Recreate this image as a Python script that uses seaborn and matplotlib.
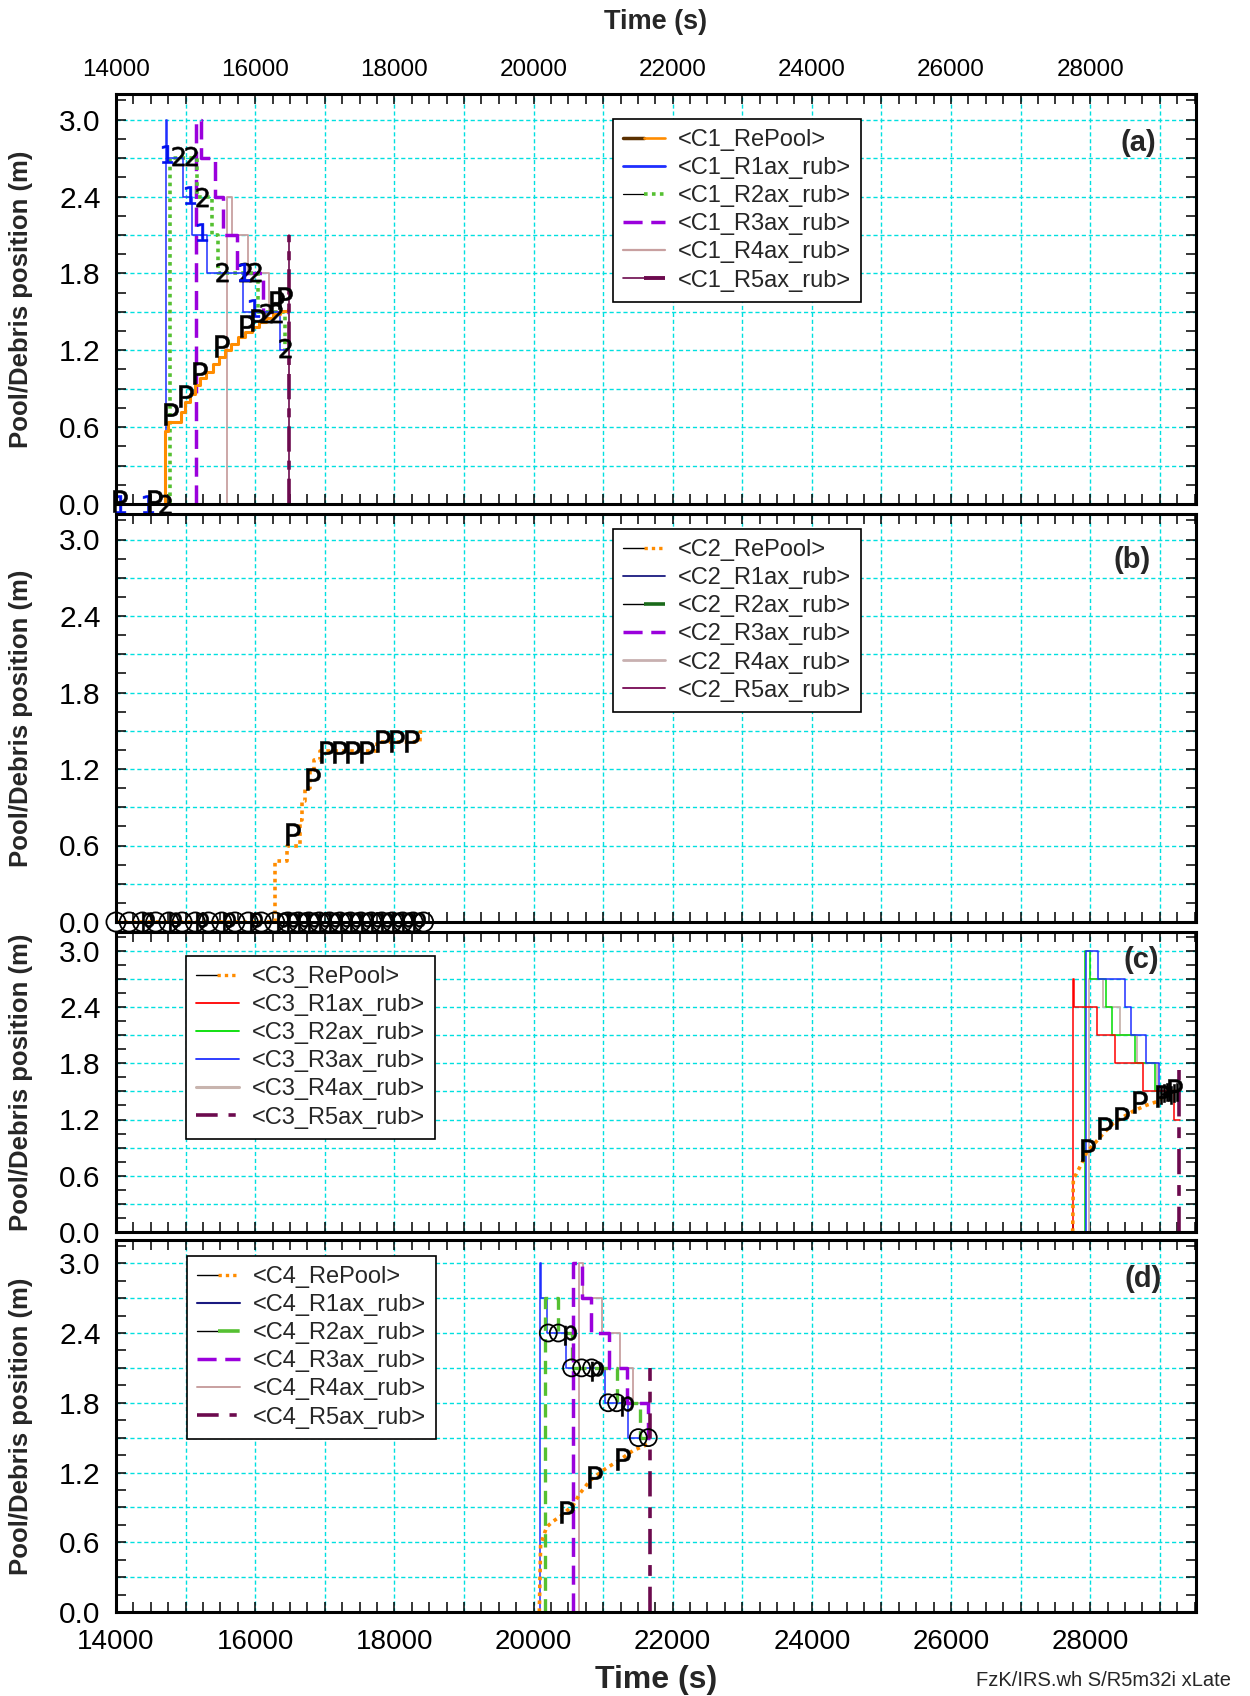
import numpy as np
import pandas as pd
import matplotlib
matplotlib.use("Agg")
import matplotlib.pyplot as plt
import seaborn as sns
from matplotlib.lines import Line2D
from matplotlib.legend_handler import HandlerTuple
from matplotlib.ticker import MultipleLocator, FuncFormatter

sns.set_theme(style="white")
plt.rcParams['font.family'] = ['Liberation Sans', 'DejaVu Sans']

# ---------------- DATA ----------------
# Panel (a) : C1
a_pool_t = [14704, 14704, 14748, 14940, 14990, 15060, 15130, 15200, 15300, 15400, 15480, 15560,
            15650, 15750, 15850, 15950, 16050, 16150, 16250, 16350, 16476]
a_pool_v = [0.0, 0.57, 0.64, 0.72, 0.80, 0.86, 0.93, 0.98, 1.03, 1.09, 1.15, 1.20,
            1.25, 1.30, 1.34, 1.38, 1.42, 1.45, 1.48, 1.51, 1.52]
a_r1_t = [14718, 14718, 14728, 14967, 15087, 15303, 15830, 16357, 16476]
a_r1_v = [0.0, 3.0, 2.7, 2.4, 2.1, 1.8, 1.5, 1.2, 1.2]
a_r2_t = [14776, 14776, 15168, 15375, 15470, 16045, 16428, 16476]
a_r2_v = [0.0, 2.7, 2.4, 2.1, 1.8, 1.5, 1.2, 1.2]
a_r3_t = [15150, 15150, 15217, 15423, 15542, 15734, 16117, 16476]
a_r3_v = [0.0, 3.0, 2.7, 2.4, 2.1, 1.8, 1.5, 1.5]
a_r4_t = [15588, 15588, 15660, 15900, 16200, 16476]
a_r4_v = [0.0, 2.4, 2.1, 1.8, 1.5, 1.5]
a_r5_t = [16485, 16485, 16490]
a_r5_v = [0.0, 2.1, 2.1]
a_mP_t = [14060, 14560, 14790, 15005, 15207, 15518, 15878, 16045, 16309, 16428]
a_mP_v = [0.02, 0.02, 0.70, 0.84, 1.02, 1.23, 1.39, 1.44, 1.58, 1.61]
a_m1_t = [14060, 14460, 14726, 15063, 15236, 15983, 15840]
a_m1_v = [0.0, 0.0, 2.73, 2.41, 2.12, 1.53, 1.81]
a_m2_t = [14700, 14891, 15078, 15236, 15523, 15860, 15998, 16160, 16300, 16429]
a_m2_v = [0.0, 2.72, 2.72, 2.40, 1.81, 1.81, 1.81, 1.49, 1.49, 1.22]

# Panel (b) : C2
b_pool_t = [14000, 16285, 16453, 16644, 16680, 16714, 16787, 16850, 16931, 17745, 18368, 18420]
b_pool_v = [0.0, 0.48, 0.60, 0.80, 0.95, 1.05, 1.19, 1.27, 1.34, 1.41, 1.49, 1.49]
b_rub_t = [14000, 18420]
b_rub_v = [0.0, 0.0]
b_mP_t = [16548, 16836, 17028, 17219, 17411, 17603, 17841, 18033, 18249]
b_mP_v = [0.69, 1.12, 1.33, 1.33, 1.33, 1.33, 1.42, 1.42, 1.42]
b_circ_t = [14000, 14190, 14380, 14570, 14760, 14950, 15140, 15330, 15520, 15710, 15900,
            16090, 16280, 16470, 16620, 16770, 16920, 17070, 17220, 17370, 17520, 17670,
            17820, 17970, 18120, 18270, 18420]
b_p_t = [14460, 14850, 15235, 15625, 16010, 16400, 16550, 16700, 16850, 17000, 17150,
         17300, 17450, 17600, 17750, 17900, 18050, 18200, 18350]

# Panel (c) : C3
c_pool_t = [27748, 27757, 27800, 27877, 27950, 28069, 28200, 28332, 28480, 28620, 28800,
            28955, 29146, 29290]
c_pool_v = [0.0, 0.57, 0.62, 0.73, 0.85, 0.95, 1.06, 1.16, 1.23, 1.29, 1.35, 1.39, 1.50, 1.50]
c_r1_t = [27757, 27757, 27770, 28093, 28356, 28754, 29204, 29290]
c_r1_v = [0.0, 2.7, 2.4, 2.1, 1.8, 1.5, 1.2, 1.2]
c_r2_t = [27925, 27925, 27997, 28227, 28313, 28643, 28931, 29040]
c_r2_v = [0.0, 3.0, 2.7, 2.4, 2.1, 1.8, 1.5, 1.5]
c_r3_t = [27935, 27935, 28107, 28500, 28586, 28797, 28993, 29080]
c_r3_v = [0.0, 3.0, 2.7, 2.4, 2.1, 1.8, 1.5, 1.5]
c_r4_t = [27987, 27987, 28179, 28428, 28677, 28955, 29080]
c_r4_v = [0.0, 2.7, 2.4, 2.1, 1.8, 1.5, 1.5]
c_r5_t = [29276, 29276, 29280]
c_r5_v = [0.0, 1.73, 1.73]
c_mP_t = [27973, 28212, 28452, 28715, 29051, 29218]
c_mP_v = [0.88, 1.11, 1.22, 1.39, 1.45, 1.52]
c_m2_t = [29090, 29130, 29170]
c_m2_v = [1.46, 1.48, 1.49]

# Panel (d) : C4
d_pool_t = [20083, 20102, 20188, 20280, 20380, 20476, 20571, 20667, 20811, 21003, 21242,
            21434, 21673]
d_pool_v = [0.0, 0.58, 0.73, 0.78, 0.82, 0.87, 0.92, 1.02, 1.13, 1.22, 1.31, 1.39, 1.45]
d_r1_t = [20092, 20092, 20105, 20188, 20461, 21026, 21362, 21673]
d_r1_v = [0.0, 3.0, 2.7, 2.4, 2.1, 1.8, 1.5, 1.5]
d_r2_t = [20164, 20164, 20356, 20547, 21194, 21530, 21673]
d_r2_v = [0.0, 2.7, 2.4, 2.1, 1.8, 1.5, 1.5]
d_r3_t = [20571, 20571, 20691, 20825, 21089, 21347, 21649, 21673]
d_r3_v = [0.0, 3.0, 2.7, 2.4, 2.1, 1.8, 1.5, 1.5]
d_r4_t = [20653, 20653, 20715, 20979, 21242, 21434, 21673]
d_r4_v = [0.0, 3.0, 2.7, 2.4, 2.1, 1.8, 1.8]
d_r5_t = [21673, 21673, 21680]
d_r5_v = [0.0, 2.1, 2.1]
d_circ_t = [20212, 20356, 20547, 20691, 20835, 21074, 21194, 21506, 21649]
d_circ_v = [2.4, 2.4, 2.1, 2.1, 2.1, 1.8, 1.8, 1.5, 1.5]
d_p_t = [20524, 20907, 21338]
d_p_v = [2.38, 2.07, 1.77]
d_mP_t = [20476, 20883, 21290]
d_mP_v = [0.86, 1.16, 1.32]

legend_a = ["<C1_RePool>", "<C1_R1ax_rub>", "<C1_R2ax_rub>", "<C1_R3ax_rub>", "<C1_R4ax_rub>", "<C1_R5ax_rub>"]
legend_b = ["<C2_RePool>", "<C2_R1ax_rub>", "<C2_R2ax_rub>", "<C2_R3ax_rub>", "<C2_R4ax_rub>", "<C2_R5ax_rub>"]
legend_c = ["<C3_RePool>", "<C3_R1ax_rub>", "<C3_R2ax_rub>", "<C3_R3ax_rub>", "<C3_R4ax_rub>", "<C3_R5ax_rub>"]
legend_d = ["<C4_RePool>", "<C4_R1ax_rub>", "<C4_R2ax_rub>", "<C4_R3ax_rub>", "<C4_R4ax_rub>", "<C4_R5ax_rub>"]

# ---------------- STYLES ----------------
ORANGE = '#ff8c00'
BLUE = '#1f2fff'
GREEN_A = '#55c032'
PURPLE = '#9a00dc'
ROSY = '#c8a0a0'
R5C = '#6c0a4e'
NAVY = '#1a1a80'
DKGREEN = '#1a6a1a'
PLUM = '#801a60'
RED = '#ff0000'
LIME = '#00dd00'
ROSY_C = '#c8b4ae'
GRID = '#00e0e0'

DOT = (0, (1, 1.2))
DASH = (0, (5.5, 2.5))
DASHDOT = (0, (7, 2.5, 2.5, 2.5))
GDASH = (0, (4, 2.5))

fig = plt.figure(figsize=(12.5, 16.96), dpi=100)
L, W = 116 / 1250, 1080 / 1250
axa = fig.add_axes([L, 1 - 504 / 1696, W, 410 / 1696])
axb = fig.add_axes([L, 1 - 922 / 1696, W, 408 / 1696])
axc = fig.add_axes([L, 1 - 1232 / 1696, W, 300 / 1696])
axd = fig.add_axes([L, 1 - 1612 / 1696, W, 372 / 1696])


def line(ax, t, v, color, lw, ls='-', steps=True, z=3):
    df = pd.DataFrame({'t': t, 'v': v})
    sns.lineplot(data=df, x='t', y='v', ax=ax, color=color, linewidth=lw, linestyle=ls,
                 estimator=None, sort=False, legend=False, zorder=z,
                 drawstyle='steps-post' if steps else 'default')


def marks(ax, t, v, marker, s, color='black', z=6, hollow=False):
    df = pd.DataFrame({'t': t, 'v': v})
    if hollow:
        sns.scatterplot(data=df, x='t', y='v', ax=ax, marker=marker, s=s, facecolors='none',
                        edgecolor=color, linewidth=1.3, legend=False, zorder=z, clip_on=False)
    else:
        sns.scatterplot(data=df, x='t', y='v', ax=ax, marker=marker, s=s, color=color,
                        edgecolor=color, linewidth=0.4, legend=False, zorder=z, clip_on=False)


def xfmt(v, p):
    return f"{v:.0f}" if abs(v / 2000 - round(v / 2000)) < 1e-6 else ""


def yfmt(v, p):
    i = int(round(v / 0.3))
    return f"{v:.1f}" if i % 2 == 0 else ""


def style(ax, top_labels=False, bottom_labels=False):
    ax.set_xlim(14000, 29520)
    ax.set_ylim(0, 3.2)
    ax.xaxis.set_major_locator(MultipleLocator(1000))
    ax.xaxis.set_minor_locator(MultipleLocator(250))
    ax.yaxis.set_major_locator(MultipleLocator(0.3))
    ax.yaxis.set_minor_locator(MultipleLocator(0.15))
    ax.xaxis.set_major_formatter(FuncFormatter(xfmt))
    ax.yaxis.set_major_formatter(FuncFormatter(yfmt))
    ax.tick_params(which='both', direction='in', top=True, right=True, bottom=True, left=True,
                   length=7, width=1.1, colors='black')
    ax.tick_params(axis='x', labeltop=top_labels, labelbottom=bottom_labels,
                   labelsize=20 if bottom_labels else 17.5, pad=12 if bottom_labels else 9)
    ax.tick_params(axis='y', labelsize=21.5, pad=11)
    ax.grid(True, which='major', color=GRID, linestyle=(0, (3, 2)), linewidth=1.0)
    ax.set_axisbelow(True)
    for sp in ax.spines.values():
        sp.set_color('black')
        sp.set_linewidth(2.2)
        sp.set_zorder(8)
    ax.set_xlabel('')
    ax.set_ylabel('Pool/Debris position (m)', fontsize=18.5, fontweight='bold')
    ax.yaxis.set_label_coords(-0.077, 0.5)


def legend(ax, handles, labels, anchor):
    leg = ax.legend(handles, labels, loc='upper left', bbox_to_anchor=anchor, borderaxespad=0,
                    fontsize=17, frameon=True, fancybox=False, edgecolor='black', framealpha=1,
                    handlelength=1.8, handletextpad=0.55, borderpad=0.42, labelspacing=0.26,
                    handler_map={tuple: HandlerTuple(ndivide=None, pad=0)})
    leg.get_frame().set_linewidth(1.2)
    leg.set_zorder(20)


def L2(color, lw, ls='-'):
    return Line2D([], [], color=color, lw=lw, ls=ls)


# ---------- Panel (a) ----------
line(axa, a_r4_t, a_r4_v, ROSY, 1.3)
line(axa, a_r3_t, a_r3_v, PURPLE, 2.5, DASH)
line(axa, a_r2_t, a_r2_v, GREEN_A, 2.6, DOT)
line(axa, a_r1_t, a_r1_v, BLUE, 1.1)
line(axa, a_pool_t, a_pool_v, ORANGE, 2.2)
line(axa, a_r5_t, a_r5_v, R5C, 1.2)
line(axa, a_r5_t, a_r5_v, R5C, 2.6, DASHDOT)
marks(axa, a_m2_t, a_m2_v, r'$\mathsf{2}$', 190)
marks(axa, a_m1_t, a_m1_v, r'$\mathsf{1}$', 170, color='#0010ee')
marks(axa, a_mP_t, a_mP_v, r'$\mathsf{P}$', 250)
style(axa, top_labels=True)
legend(axa, [(L2('#5a3000', 2.5), L2(ORANGE, 1.9)), L2(BLUE, 2.0),
             (L2('black', 0.9), L2(GREEN_A, 2.6, DOT)), L2(PURPLE, 2.5, DASH),
             L2(ROSY, 1.6), (L2(R5C, 1.2), L2(R5C, 2.8, (0, (8, 4, 3, 1))))],
       legend_a, (0.46, 0.939))
axa.text(0.947, 0.88, '(a)', transform=axa.transAxes, fontsize=21, fontweight='bold',
         ha='center', va='center')

# ---------- Panel (b) ----------
line(axb, b_rub_t, b_rub_v, NAVY, 1.0)
line(axb, b_rub_t, b_rub_v, PLUM, 1.2)
line(axb, b_pool_t, b_pool_v, ORANGE, 2.6, DOT)
marks(axb, b_circ_t, [0.0] * len(b_circ_t), 'o', 190, hollow=True)
marks(axb, b_p_t, [0.0] * len(b_p_t), r'$\mathsf{p}$', 200)
marks(axb, b_mP_t, b_mP_v, r'$\mathsf{P}$', 250)
style(axb)
legend(axb, [(L2('black', 1.0), L2(ORANGE, 2.4, DOT)), L2(NAVY, 1.3),
             (L2('black', 1.0), L2(DKGREEN, 2.6, (0, (6, 4)))), L2(PURPLE, 2.5, DASH),
             L2('#c8b0b0', 2.0), L2(PLUM, 1.4)],
       legend_b, (0.46, 0.963))
axb.text(0.941, 0.887, '(b)', transform=axb.transAxes, fontsize=21, fontweight='bold',
         ha='center', va='center')

# ---------- Panel (c) ----------
line(axc, c_r4_t, c_r4_v, ROSY_C, 1.3)
line(axc, c_r2_t, c_r2_v, LIME, 1.1)
line(axc, c_r3_t, c_r3_v, BLUE, 1.1)
line(axc, c_r1_t, c_r1_v, RED, 1.1)
line(axc, c_pool_t, c_pool_v, ORANGE, 2.6, DOT, steps=False)
line(axc, c_r5_t, c_r5_v, R5C, 2.6, (0, (7, 3, 3, 3)))
marks(axc, c_m2_t, c_m2_v, r'$\mathsf{H}$', 150)
marks(axc, c_mP_t, c_mP_v, r'$\mathsf{P}$', 250)
style(axc)
legend(axc, [(L2('black', 1.0), L2(ORANGE, 2.4, DOT)), L2(RED, 1.3), L2(LIME, 1.3),
             L2(BLUE, 1.3), L2(ROSY_C, 2.2), L2(R5C, 2.6, (0, (6, 3, 2, 3)))],
       legend_c, (0.065, 0.92))
axc.text(0.949, 0.907, '(c)', transform=axc.transAxes, fontsize=21, fontweight='bold',
         ha='center', va='center')

# ---------- Panel (d) ----------
line(axd, d_r4_t, d_r4_v, ROSY, 1.3)
line(axd, d_r1_t, d_r1_v, BLUE, 1.1)
line(axd, d_r2_t, d_r2_v, GREEN_A, 2.4, GDASH)
line(axd, d_r3_t, d_r3_v, PURPLE, 2.5, DASH)
line(axd, d_pool_t, d_pool_v, ORANGE, 2.6, DOT, steps=False)
line(axd, d_r5_t, d_r5_v, R5C, 2.6, (0, (7, 3, 3, 3)))
marks(axd, d_circ_t, d_circ_v, 'o', 150, hollow=True)
marks(axd, d_p_t, d_p_v, r'$\mathsf{p}$', 200)
marks(axd, d_mP_t, d_mP_v, r'$\mathsf{P}$', 250)
style(axd, bottom_labels=True)
legend(axd, [(L2('black', 1.0), L2(ORANGE, 2.4, DOT)), L2(NAVY, 1.5),
             (L2('black', 1.0), L2(GREEN_A, 2.6, (0, (6, 4)))), L2(PURPLE, 2.5, DASH),
             L2(ROSY, 1.4), L2(R5C, 2.6, (0, (6, 3, 2, 3)))],
       legend_d, (0.066, 0.957))
axd.text(0.951, 0.895, '(d)', transform=axd.transAxes, fontsize=21, fontweight='bold',
         ha='center', va='center')

fig.text(656 / 1250, 1 - 22 / 1696, 'Time (s)', fontsize=19.5, fontweight='bold',
         ha='center', va='center')
fig.text(656 / 1250, 1 - 1680 / 1696, 'Time (s)', fontsize=23, fontweight='bold',
         ha='center', va='center')
fig.text(1103 / 1250, 1 - 1680 / 1696, 'FzK/IRS.wh S/R5m32i xLate', fontsize=14.5,
         ha='center', va='center')

fig.savefig('out.png', dpi=100, facecolor='white')
